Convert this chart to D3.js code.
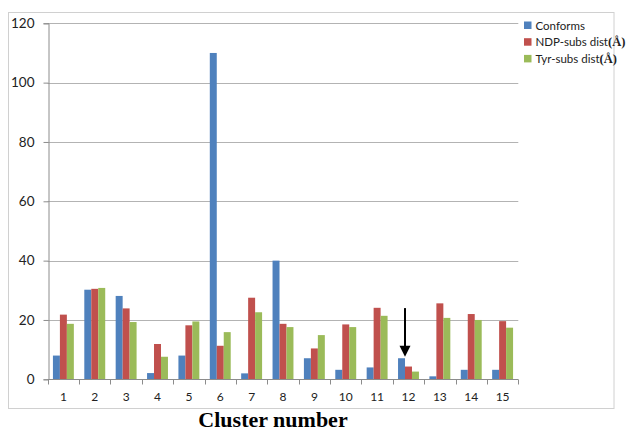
<!DOCTYPE html>
<html>
<head>
<meta charset="utf-8">
<script src="https://cdn.jsdelivr.net/npm/d3@7"></script>
<style>
  html, body { margin: 0; padding: 0; background: #fff; }
  svg { display: block; }
</style>
</head>
<body>
<svg id="chart" width="629" height="431"></svg>
<script>
// Cluster analysis: number of conformations and substrate distances per cluster
const clusters = ["1","2","3","4","5","6","7","8","9","10","11","12","13","14","15"];
const conforms = [8, 30.2, 28.1, 2.1, 8, 110, 2, 40, 7.1, 3.2, 4, 7.1, 1, 3.2, 3.2];
const ndpDist  = [21.8, 30.5, 23.9, 11.9, 18.2, 11.3, 27.5, 18.7, 10.4, 18.5, 24.1, 4.3, 25.6, 22, 19.6];
const tyrDist  = [18.7, 30.8, 19.3, 7.6, 19.5, 15.9, 22.6, 17.6, 14.9, 17.6, 21.4, 2.6, 20.7, 20, 17.4];
const seriesNames = ["Conforms", "NDP-subs dist", "Tyr-subs dist"];
const seriesUnits = ["", "(Å)", "(Å)"];
const yTicks = [0, 20, 40, 60, 80, 100, 120];
const xTitle = "Cluster number";
const markedCluster = "12";

const colors = ["#4F81BD", "#C0504D", "#9BBB59"];
const series = [conforms, ndpDist, tyrDist];

const svg = d3.select("#chart");
const plot = { left: 47.7, right: 518.3, top: 23.3, bottom: 379.3 };

// outer chart border
svg.append("rect")
  .attr("x", 8.5).attr("y", 12.5)
  .attr("width", 605.5).attr("height", 396)
  .attr("fill", "#fff").attr("stroke", "#d0d0d0").attr("stroke-width", 1);

const x0 = d3.scaleBand().domain(clusters).range([plot.left, plot.right]).padding(0);
const x1 = d3.scaleBand().domain(d3.range(series.length))
  .range([0, x0.bandwidth()]).paddingInner(0).paddingOuter(0.75);
const y = d3.scaleLinear().domain([0, 120]).range([plot.bottom, plot.top]);

// horizontal gridlines
svg.append("g").selectAll("line")
  .data(yTicks.filter(d => d > 0))
  .join("line")
  .attr("x1", plot.left).attr("x2", plot.right)
  .attr("y1", d => Math.round(y(d)) + 0.5).attr("y2", d => Math.round(y(d)) + 0.5)
  .attr("stroke", "#b3b3b3").attr("stroke-width", 1);

// y axis
const yAxis = svg.append("g")
  .attr("transform", `translate(${Math.round(plot.left) + 0.5},0)`)
  .call(d3.axisLeft(y).tickValues(yTicks).tickSize(5).tickPadding(9).tickFormat(d3.format("d")));
yAxis.select(".domain").attr("stroke", "#8c8c8c");
yAxis.selectAll(".tick line").attr("stroke", "#8c8c8c");
yAxis.selectAll(".tick text")
  .attr("font-family", "Lato, 'Open Sans', sans-serif")
  .attr("font-size", 13.5).attr("fill", "#222");

// bars
const groups = svg.append("g").selectAll("g")
  .data(clusters)
  .join("g")
  .attr("transform", d => `translate(${x0(d)},0)`);

groups.selectAll("rect")
  .data((d, i) => series.map((s, k) => ({ k, v: s[i] })))
  .join("rect")
  .attr("x", d => x1(d.k))
  .attr("width", x1.bandwidth())
  .attr("y", d => y(d.v))
  .attr("height", d => y(0) - y(d.v))
  .attr("fill", d => colors[d.k]);

// x axis with ticks at category boundaries
const xAxisG = svg.append("g")
  .attr("transform", `translate(0,${Math.round(plot.bottom) + 0.5})`);
xAxisG.append("line")
  .attr("x1", plot.left).attr("x2", plot.right)
  .attr("stroke", "#8c8c8c");
xAxisG.selectAll("line.tick")
  .data(clusters.map(c => x0(c)).concat([plot.right]))
  .join("line").attr("class", "tick")
  .attr("x1", d => Math.round(d) + 0.5).attr("x2", d => Math.round(d) + 0.5)
  .attr("y1", 0).attr("y2", 5)
  .attr("stroke", "#8c8c8c");
xAxisG.selectAll("text")
  .data(clusters)
  .join("text")
  .attr("x", d => x0(d) + x0.bandwidth() / 2)
  .attr("y", 21)
  .attr("text-anchor", "middle")
  .attr("font-family", "Lato, 'Open Sans', sans-serif")
  .attr("font-size", 12).attr("fill", "#222")
  .text(d => d);

// axis title
svg.append("text")
  .attr("x", 273).attr("y", 427)
  .attr("text-anchor", "middle")
  .attr("font-family", "'Liberation Serif', 'Times New Roman', serif")
  .attr("font-weight", "bold").attr("font-size", 22)
  .attr("fill", "#000")
  .text(xTitle);

// arrow marking a cluster
const mi = clusters.indexOf(markedCluster);
const ax = x0(markedCluster) + x1(1);
const tipY = y(conforms[mi]) - 1.5;
const topY = y(24);
svg.append("line")
  .attr("x1", ax).attr("x2", ax)
  .attr("y1", topY).attr("y2", tipY - 8)
  .attr("stroke", "#000").attr("stroke-width", 2);
svg.append("path")
  .attr("d", `M${ax - 5.5},${tipY - 11} L${ax + 5.5},${tipY - 11} L${ax},${tipY} Z`)
  .attr("fill", "#000");

// legend
const legend = svg.append("g").selectAll("g")
  .data(seriesNames)
  .join("g")
  .attr("transform", (d, i) => `translate(524,${25 + i * 16.7})`);
legend.append("rect")
  .attr("x", 0).attr("y", -3.5).attr("width", 7.5).attr("height", 7.5)
  .attr("fill", (d, i) => colors[i]);
const lt = legend.append("text")
  .attr("x", 11.5).attr("y", 4.5)
  .attr("font-family", "Lato, 'Open Sans', sans-serif")
  .attr("font-size", 11.5).attr("fill", "#222");
lt.append("tspan").text(d => d);
lt.append("tspan")
  .attr("font-family", "'Liberation Serif', serif")
  .attr("font-weight", "bold").attr("font-size", 12.5)
  .text((d, i) => seriesUnits[i]);
</script>
</body>
</html>
